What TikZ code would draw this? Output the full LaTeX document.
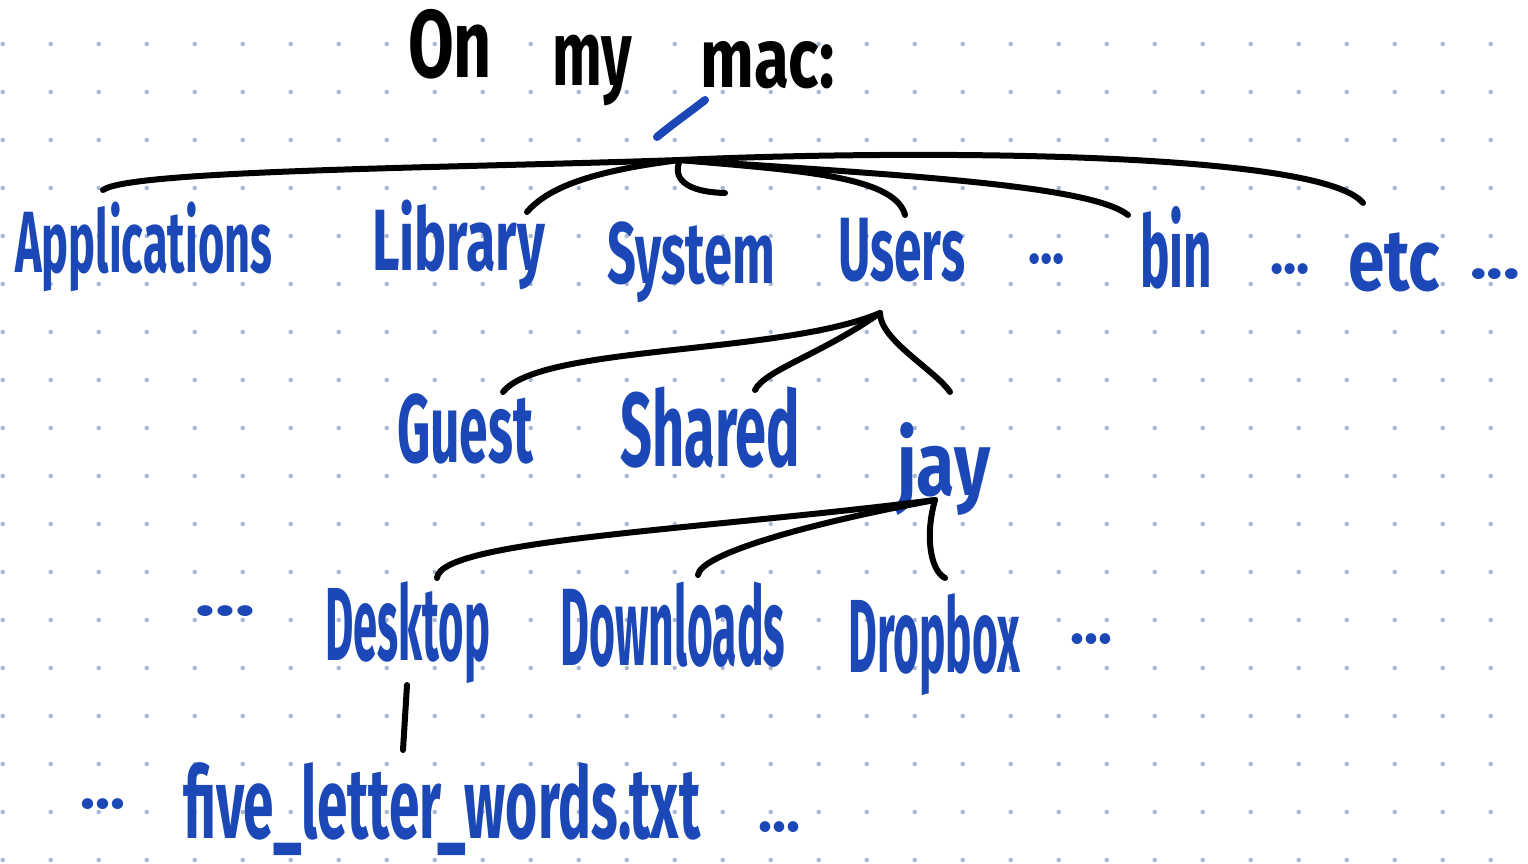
\documentclass[tikz,border=0pt]{standalone}
\usepackage{fontspec}
\setmainfont{Fira Sans}
\usepackage{graphicx}
\definecolor{ink}{HTML}{1B48B6}
\definecolor{dotc}{HTML}{A9B5D3}
\newcommand{\hw}[3]{\fontsize{#1}{#1}\selectfont\resizebox{#2pt}{\height}{#3}}
\tikzset{
  lbl/.style={inner sep=0pt, anchor=base west, text=ink, font=\bfseries},
  ttl/.style={inner sep=0pt, anchor=base west, text=black, font=\bfseries},
  edge/.style={line width=6pt, line cap=round, draw=black},
  gdot/.style={fill=dotc}
}
\begin{document}
\begin{tikzpicture}[x=1pt,y=-1pt]
\useasboundingbox (0,0) rectangle (1528,864);
\fill[white] (0,0) rectangle (1528,864);
% dot grid
\foreach \i in {0,...,31}{
  \foreach \j in {0,...,17}{
    \fill[gdot] ({2.7+48*\i},{44+48*\j}) circle (2.2pt);
  }
}
% title
\node[ttl] (on) at (408,78) {\hw{96}{84}{On}};
\node[ttl] (my) at (552,86) {\hw{92}{80}{my}};
\node[ttl] (mac) at (700,88) {\hw{84}{135}{mac:}};
\coordinate (s1) at (657,137);
\coordinate (s2) at (705,100);
\draw[ink, line width=8pt, line cap=round] (s1) .. controls (675,122) and (690,112) .. (s2);
% row 1
\node[lbl] (apps) at (15,272) {\hw{87}{257}{Applications}};
\node[lbl] (library) at (372,270) {\hw{87}{173}{Library}};
\node[lbl] (system) at (607,283) {\hw{87}{168}{System}};
\node[lbl] (users) at (838,280) {\hw{90}{127}{Users}};
\node[lbl] (d1) at (1028,263) {\hw{60}{37}{...}};
\node[lbl] (bin) at (1140,287) {\hw{100}{72}{bin}};
\node[lbl] (d2) at (1270,273) {\hw{60}{40}{...}};
\node[lbl] (etc) at (1348,290) {\hw{87}{92}{etc}};
\node[lbl] (d3) at (1470,278) {\hw{60}{50}{...}};
% row 2
\node[lbl] (guest) at (397,462) {\hw{97}{136}{Guest}};
\node[lbl] (shared) at (620,466) {\hw{105}{180}{Shared}};
\node[lbl] (jay) at (897,495) {\hw{90}{93}{jay}};
% row 3
\node[lbl] (d4) at (195,615) {\hw{60}{60}{...}};
\node[lbl] (desktop) at (325,660) {\hw{104}{165}{Desktop}};
\node[lbl] (downloads) at (560,665) {\hw{110}{225}{Downloads}};
\node[lbl] (dropbox) at (848,672) {\hw{104}{172}{Dropbox}};
\node[lbl] (d5) at (1070,643) {\hw{60}{42}{...}};
% row 4
\node[lbl] (d6) at (80,808) {\hw{60}{45}{...}};
\node[lbl] (file) at (183,838) {\hw{100}{517}{five\_letter\_words.txt}};
\node[lbl] (d7) at (758,831) {\hw{60}{42}{...}};
% hubs and ends
\coordinate (R) at (680,160);
\coordinate (U) at (880,313);
\coordinate (J) at (935,500);
\coordinate (eapps) at (103,190);
\coordinate (elib) at (527,212);
\coordinate (esys) at (725,193);
\coordinate (eusers) at (905,215);
\coordinate (ebin) at (1128,215);
\coordinate (eetc) at (1363,203);
\coordinate (eguest) at (503,392);
\coordinate (eshared) at (755,390);
\coordinate (ejay) at (950,392);
\coordinate (edesk) at (437,578);
\coordinate (edown) at (698,575);
\coordinate (edrop) at (945,578);
\coordinate (fa) at (407,685);
\coordinate (fb) at (403,750);
% connectors
\draw[edge] (R) .. controls (450,168) and (130,170) .. (eapps);
\draw[edge] (R) .. controls (600,170) and (550,185) .. (elib);
\draw[edge] (R) .. controls (672,178) and (685,192) .. (esys);
\draw[edge] (R) .. controls (790,170) and (895,175) .. (eusers);
\draw[edge] (R) .. controls (900,175) and (1090,185) .. (ebin);
\draw[edge] (R) .. controls (900,150) and (1320,150) .. (eetc);
\draw[edge] (U) .. controls (780,355) and (540,345) .. (eguest);
\draw[edge] (U) .. controls (820,355) and (765,370) .. (eshared);
\draw[edge] (U) .. controls (880,340) and (935,370) .. (ejay);
\draw[edge] (J) .. controls (700,530) and (440,540) .. (edesk);
\draw[edge] (J) .. controls (800,525) and (700,555) .. (edown);
\draw[edge] (J) .. controls (925,535) and (930,570) .. (edrop);
\draw[edge] (fa) -- (fb);
\end{tikzpicture}
\end{document}
